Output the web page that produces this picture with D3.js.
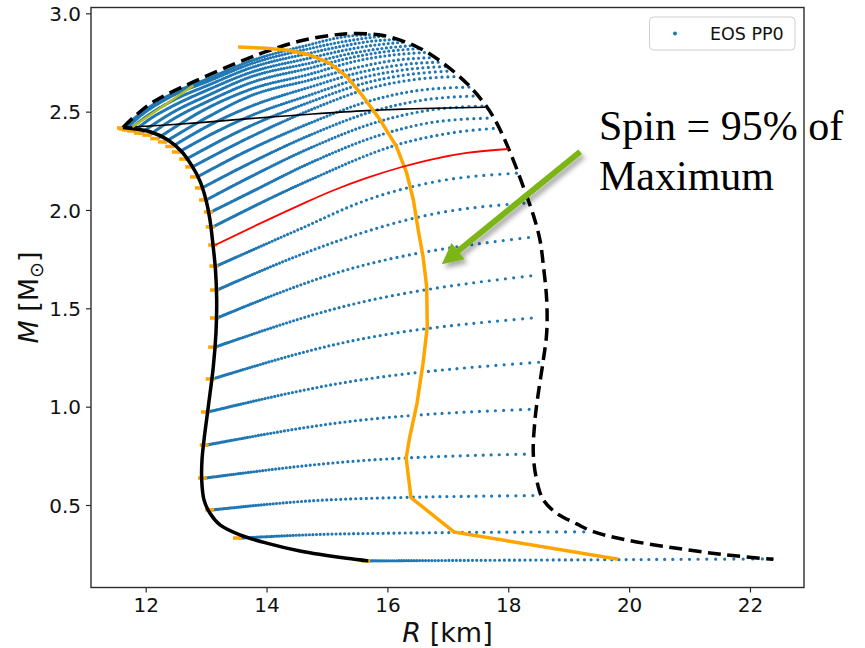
<!DOCTYPE html>
<html>
<head>
<meta charset="utf-8">
<script src="https://cdn.jsdelivr.net/npm/d3@7"></script>
<style>
  body { margin: 0; background: #fff; }
  svg { display: block; }
</style>
</head>
<body>
<svg id="chart" width="865" height="648"></svg>
<script>
// Rotating neutron-star models for EOS PP0: gravitational mass vs equatorial radius.

const xTicks = [12, 14, 16, 18, 20, 22];
const yTicks = [0.5, 1.0, 1.5, 2.0, 2.5, 3.0];

// Non-rotating (TOV) branch, [R km, M Msun]
const nonRotating = [
  [11.624,2.419],[12.071,2.398],[12.369,2.356],[12.601,2.295],[12.766,2.224],[12.899,2.147],
  [12.998,2.051],[13.064,1.949],[13.114,1.822],[13.155,1.695],[13.175,1.542],[13.163,1.375],
  [13.119,1.203],[13.036,1.000],[12.965,0.831],[12.932,0.729],[12.927,0.627],[12.965,0.526],
  [13.064,0.458],[13.230,0.399],[13.560,0.348],[14.002,0.306],[14.553,0.266],[15.326,0.229],
  [15.684,0.216]
];

// Mass-shedding (Kepler) limit
const keplerLimit = [
  [11.624,2.419],[11.795,2.470],[12.071,2.539],[12.348,2.587],[12.788,2.651],[13.450,2.740],
  [14.002,2.806],[14.553,2.859],[15.050,2.887],[15.381,2.897],[15.932,2.887],[16.485,2.830],
  [16.925,2.746],[17.312,2.644],[17.560,2.559],[17.752,2.474],[17.918,2.373],[18.083,2.254],
  [18.249,2.118],[18.414,1.975],[18.525,1.847],[18.580,1.720],[18.636,1.542],[18.636,1.375],
  [18.580,1.237],[18.497,1.068],[18.442,0.932],[18.414,0.763],[18.470,0.627],[18.580,0.526],
  [18.801,0.458],[19.132,0.404],[19.407,0.3645],[19.960,0.322],[20.787,0.280],[21.614,0.246],
  [22.386,0.224]
];

// Models spinning at 95% of their maximum rate
const spin95 = [
  [13.53,2.829],[14.00,2.822],[14.39,2.811],[14.72,2.788],[15.05,2.746],[15.33,2.678],
  [15.60,2.576],[15.88,2.458],[16.15,2.322],[16.32,2.187],[16.43,2.051],[16.51,1.898],
  [16.59,1.763],[16.65,1.610],[16.66,1.407],[16.59,1.221],[16.49,1.017],[16.37,0.847],
  [16.31,0.739],[16.39,0.538],[17.10,0.363],[19.82,0.224]
];

// Highlighted constant-density sequence
const highlightSeq = [
  [13.15,1.822],[14.55,2.025],[15.10,2.099],[15.66,2.163],[16.21,2.216],[16.76,2.259],
  [17.31,2.290],[18.00,2.310]
];

// Line through the TOV maximum-mass model
const maxMassLine = [
  [11.624,2.419],[12.348,2.432],[12.899,2.444],[13.450,2.458],[14.002,2.471],[14.719,2.487],
  [15.657,2.505],[16.759,2.517],[17.615,2.522]
];

// Short segment along the upper envelope
const upperSegment = [[11.78,2.422],[12.79,2.633]];

// Constant central-density sequences, from zero spin to mass shedding
const densitySequences = [
  [[15.68,0.216],[19.02,0.221],[22.38,0.226]],
  [[13.56,0.332],[15.22,0.353],[19.40,0.364]],
  [[13.10,0.475],[15.22,0.529],[18.48,0.548]],
  [[12.98,0.637],[15.22,0.717],[18.33,0.759]],
  [[13.01,0.805],[15.22,0.919],[18.48,0.988]],
  [[13.03,0.973],[15.22,1.119],[18.51,1.226]],
  [[13.11,1.141],[15.22,1.322],[18.52,1.454]],
  [[13.15,1.303],[15.22,1.505],[18.50,1.670]],
  [[13.18,1.451],[15.22,1.686],[18.44,1.864]],
  [[13.18,1.593],[14.55,1.771],[15.22,1.847],[16.76,1.980],[18.33,2.036]],
  [[13.17,1.715],[14.55,1.903],[15.66,2.051],[16.76,2.142],[18.14,2.187]],
  [[13.11,1.914],[14.72,2.153],[16.21,2.336],[17.04,2.391],[17.85,2.417]],
  [[13.08,1.990],[13.73,2.089],[14.72,2.239],[15.93,2.386],[16.84,2.450],[17.76,2.468]],
  [[13.00,2.051],[13.73,2.168],[14.72,2.315],[15.88,2.452],[16.75,2.510],[17.63,2.529]],
  [[12.93,2.112],[13.73,2.239],[14.72,2.381],[15.83,2.508],[16.66,2.562],[17.50,2.580]],
  [[12.85,2.168],[13.73,2.308],[14.72,2.442],[15.78,2.561],[16.57,2.610],[17.37,2.625]],
  [[12.77,2.219],[13.73,2.371],[14.72,2.508],[15.70,2.618],[16.44,2.663],[17.19,2.679]],
  [[12.67,2.259],[13.73,2.427],[14.72,2.549],[15.66,2.648],[16.36,2.689],[17.07,2.707]],
  [[12.55,2.295],[13.06,2.381],[13.73,2.478],[14.72,2.585],[15.63,2.676],[16.31,2.714],[16.99,2.730]],
  [[12.44,2.323],[13.06,2.432],[13.73,2.526],[14.72,2.625],[15.58,2.702],[16.34,2.742],[16.89,2.752]],
  [[12.32,2.346],[13.06,2.478],[13.73,2.580],[14.72,2.661],[15.53,2.727],[16.18,2.763],[16.77,2.775]],
  [[12.19,2.363],[13.06,2.524],[13.73,2.613],[14.72,2.691],[15.48,2.757],[16.09,2.788],[16.64,2.801]],
  [[12.06,2.381],[12.40,2.452],[13.06,2.557],[13.73,2.646],[14.72,2.722],[15.45,2.778],[15.99,2.806],[16.54,2.821]],
  [[11.92,2.391],[12.40,2.488],[13.06,2.587],[13.73,2.676],[14.72,2.747],[15.40,2.796],[15.91,2.821],[16.42,2.836]],
  [[11.81,2.402],[12.07,2.463],[12.40,2.521],[13.06,2.615],[13.73,2.699],[14.72,2.773],[15.35,2.816],[15.81,2.839],[16.27,2.853]],
  [[11.72,2.407],[12.07,2.488],[12.40,2.549],[13.06,2.638],[13.73,2.722],[14.72,2.798],[15.27,2.834],[15.71,2.857],[16.14,2.867]],
  [[11.67,2.412],[11.91,2.478],[12.40,2.574],[13.06,2.658],[13.73,2.742],[14.72,2.821],[15.20,2.852],[15.60,2.872],[15.96,2.885]],
  [[11.64,2.417],[11.82,2.468],[12.07,2.524],[12.40,2.585],[13.06,2.671],[13.73,2.757],[14.72,2.841],[15.13,2.872],[15.46,2.887],[15.75,2.892]]
];

// Annotation arrow, data coordinates
const arrowTail = [19.19, 2.296];
const arrowTip = [16.90, 1.724];

const legendLabel = "EOS PP0";
const noteLines = ["Spin = 95% of", "Maximum"];

// ---- layout ----
const plot = { left: 91, right: 804, top: 7.5, bottom: 587.5 };
const x = d3.scaleLinear().domain([11.095, 22.894]).range([plot.left, plot.right]);
const y = d3.scaleLinear().domain([0.0806, 3.0295]).range([plot.bottom, plot.top]);

const svg = d3.select("#chart");
const sans = "'DejaVu Sans', Verdana, sans-serif";
const blue = "#1f77b4";

const defs = svg.append("defs");
const shadow = defs.append("filter").attr("id", "arrowShadow")
  .attr("x", "-30%").attr("y", "-30%").attr("width", "160%").attr("height", "160%");
shadow.append("feDropShadow").attr("dx", 3).attr("dy", 4).attr("stdDeviation", 2.5)
  .attr("flood-color", "#000").attr("flood-opacity", 0.35);

const lineMono = d3.line().x(d => x(d[0])).y(d => y(d[1])).curve(d3.curveMonotoneX);
const lineSmooth = d3.line().x(d => x(d[0])).y(d => y(d[1])).curve(d3.curveCatmullRom.alpha(0.5));
const lineStraight = d3.line().x(d => x(d[0])).y(d => y(d[1]));

// Dots get sparser towards the mass-shedding end of each sequence;
// the high-density sequences near the top are sampled more finely.
function dotPattern(len, i) {
  const upper = i >= 11;
  const gmax = upper ? Math.max(4.2, 7.2 - (i - 11) * 0.18)
                     : Math.max(4, Math.min(10, len * 0.027));
  const p = upper ? 1.15 : 0.75;
  const gmin = 1.0;
  const arr = [];
  let s = 0;
  while (s < len) {
    const g = gmin + (gmax - gmin) * Math.pow(s / len, p);
    arr.push(0, g);
    s += g;
  }
  return arr.join(",");
}

// ---- sequences (blue dotted) ----
svg.append("g").selectAll("path")
  .data(densitySequences)
  .join("path")
  .attr("d", lineMono)
  .attr("fill", "none")
  .attr("stroke", blue)
  .attr("stroke-width", 3.2)
  .attr("stroke-linecap", "round")
  .attr("stroke-dasharray", function (d, i) { return dotPattern(this.getTotalLength(), i); });

// ---- zero-spin markers at each sequence start ----
const starts = densitySequences.map(s => s[0]).concat([highlightSeq[0]]);
svg.append("g").selectAll("line")
  .data(starts)
  .join("line")
  .attr("x1", d => x(d[0]) - 7).attr("x2", d => x(d[0]) + 2)
  .attr("y1", d => y(d[1])).attr("y2", d => y(d[1]))
  .attr("stroke", "orange").attr("stroke-width", 3.5);

// ---- static branch ----
svg.append("path").attr("d", lineSmooth(nonRotating))
  .attr("fill", "none").attr("stroke", "#000").attr("stroke-width", 3.5);

// ---- Kepler limit ----
svg.append("path").attr("d", lineSmooth(keplerLimit))
  .attr("fill", "none").attr("stroke", "#000").attr("stroke-width", 3.5)
  .attr("stroke-dasharray", "13,6.5");

// ---- max-mass line ----
svg.append("path").attr("d", lineMono(maxMassLine))
  .attr("fill", "none").attr("stroke", "#000").attr("stroke-width", 1.6);

// ---- 95% spin curve ----
svg.append("path").attr("d", lineStraight(spin95))
  .attr("fill", "none").attr("stroke", "orange").attr("stroke-width", 3.5)
  .attr("stroke-linejoin", "round");

// ---- highlighted sequence ----
svg.append("path").attr("d", lineMono(highlightSeq))
  .attr("fill", "none").attr("stroke", "red").attr("stroke-width", 1.8);

// ---- upper envelope segment ----
svg.append("path").attr("d", lineStraight(upperSegment))
  .attr("fill", "none").attr("stroke", "#b5bd1e").attr("stroke-width", 2.4);

// ---- frame ----
svg.append("rect")
  .attr("x", plot.left).attr("y", plot.top)
  .attr("width", plot.right - plot.left).attr("height", plot.bottom - plot.top)
  .attr("fill", "none").attr("stroke", "#2b2b2b").attr("stroke-width", 1.4);

// ---- axes ----
const xAxis = svg.append("g").attr("transform", `translate(0,${plot.bottom})`)
  .call(d3.axisBottom(x).tickValues(xTicks).tickSize(5).tickPadding(5).tickFormat(d3.format("d")));
const yAxis = svg.append("g").attr("transform", `translate(${plot.left},0)`)
  .call(d3.axisLeft(y).tickValues(yTicks).tickSize(5).tickPadding(5).tickFormat(d3.format(".1f")));
[xAxis, yAxis].forEach(a => {
  a.select(".domain").remove();
  a.selectAll(".tick line").attr("stroke", "#2b2b2b").attr("stroke-width", 1.2);
  a.selectAll(".tick text").attr("font-family", sans).attr("font-size", 20).attr("fill", "#111");
});
yAxis.selectAll(".tick text").attr("dy", "0.36em");

// ---- axis labels ----
const xl = svg.append("text").attr("x", (plot.left + plot.right) / 2).attr("y", 641.5)
  .attr("text-anchor", "middle").attr("font-family", sans).attr("font-size", 27).attr("fill", "#111");
xl.append("tspan").attr("font-style", "italic").text("R");
xl.append("tspan").text(" [km]");

const yl = svg.append("text")
  .attr("transform", `translate(37.5,${(plot.top + plot.bottom) / 2}) rotate(-90)`)
  .attr("text-anchor", "middle").attr("font-family", sans).attr("font-size", 27).attr("fill", "#111");
yl.append("tspan").attr("font-style", "italic").text("M");
yl.append("tspan").text(" [M");
yl.append("tspan").attr("font-size", 19).attr("dy", 5).text("\u2299");
yl.append("tspan").attr("dy", -5).text("]");

// ---- legend ----
const lg = svg.append("g");
lg.append("rect").attr("x", 649.5).attr("y", 17).attr("width", 145.5).attr("height", 33)
  .attr("rx", 4).attr("fill", "#fff").attr("fill-opacity", 0.8)
  .attr("stroke", "#d0d0d0").attr("stroke-width", 1);
lg.append("circle").attr("cx", 675).attr("cy", 33.5).attr("r", 2).attr("fill", blue);
lg.append("text").attr("x", 710).attr("y", 39.5).attr("font-family", sans)
  .attr("font-size", 17.5).attr("fill", "#111").text(legendLabel);

// ---- annotation arrow ----
(function () {
  const tx = x(arrowTail[0]), ty = y(arrowTail[1]);
  const hx = x(arrowTip[0]), hy = y(arrowTip[1]);
  const dx = hx - tx, dy = hy - ty, L = Math.hypot(dx, dy);
  const ux = dx / L, uy = dy / L, px = -uy, py = ux;
  const shaft = 3, head = 10.5, headLen = 21;
  const bx = hx - ux * headLen, by = hy - uy * headLen;
  const pts = [
    [tx + px * shaft, ty + py * shaft],
    [bx + px * shaft, by + py * shaft],
    [bx + px * head, by + py * head],
    [hx, hy],
    [bx - px * head, by - py * head],
    [bx - px * shaft, by - py * shaft],
    [tx - px * shaft, ty - py * shaft]
  ];
  svg.append("polygon").attr("points", pts.map(p => p.join(",")).join(" "))
    .attr("fill", "#7cb518").attr("filter", "url(#arrowShadow)");
})();

// ---- annotation text ----
const note = svg.append("g").attr("font-family", "'Liberation Serif', 'Times New Roman', serif")
  .attr("font-size", 42).attr("fill", "#000");
note.selectAll("text").data(noteLines).join("text")
  .attr("x", 599).attr("y", (d, i) => 139.5 + i * 50.5).text(d => d);
</script>
</body>
</html>
